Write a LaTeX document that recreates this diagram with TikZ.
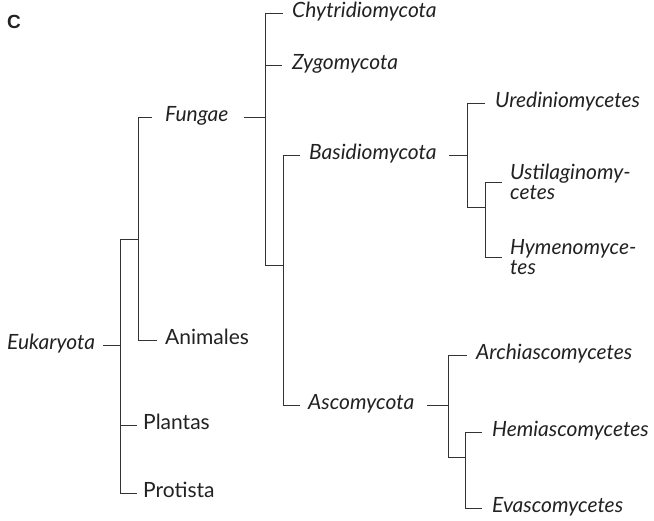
\documentclass[tikz,border=0pt]{standalone}
\usepackage{fontspec}
\setmainfont{Lato}
\newfontfamily\labelfont{Liberation Sans}
\definecolor{ink}{HTML}{222222}
\definecolor{linec}{HTML}{333333}
\begin{document}
\begin{tikzpicture}[x=1pt,y=-1pt,
  taxon/.style={anchor=west,inner sep=0pt,text=ink,font=\fontsize{21}{20}\selectfont\itshape,text height=1em,text depth=0.16em},
  taxonup/.style={taxon,font=\fontsize{21}{20}\selectfont},
  taxontwo/.style={anchor=west,inner sep=0pt,text=ink,align=left,font=\fontsize{21}{20}\selectfont\itshape},
  branch/.style={draw=linec,line width=0.9pt},
  tip/.style={branch,shorten >=8pt}]
\useasboundingbox (0,0) rectangle (654,520);
\fill[white] (0,0) rectangle (654,520);
\node[anchor=base west,inner sep=0pt,text=ink,font=\labelfont\fontsize{19}{20}\selectfont\bfseries] (lbl) at (7,28) {C};
% text nodes
\node[taxon]    (eu)  at (7,345)   {Eukaryota};
\node[taxon]    (fun) at (165,117) {Fungae};
\node[taxonup]  (ani) at (165,340) {Animales};
\node[taxonup]  (pla) at (143,425) {Plantas};
\node[taxonup]  (pro) at (143,493) {Protista};
\node[taxon]    (chy) at (292,13)  {Chytridiomycota};
\node[taxon]    (zyg) at (292,65)  {Zygomycota};
\node[taxon]    (bas) at (309,155) {Basidiomycota};
\node[taxon]    (ure) at (495,103) {Urediniomycetes};
\node[taxontwo] (ust) at (510,182) {Ustilaginomy-\\cetes};
\node[taxontwo] (hym) at (510,257) {Hymenomyce-\\tes};
\node[taxon]    (asc) at (308,405) {Ascomycota};
\node[taxon]    (arc) at (476,355) {Archiascomycetes};
\node[taxon]    (hem) at (492,432) {Hemiascomycetes};
\node[taxon]    (eva) at (492,508) {Evascomycetes};
% joints
\coordinate (jE)  at (120,345);
\coordinate (jFA) at (138,239);
\coordinate (jF)  at (265,117);
\coordinate (jD)  at (283,265);
\coordinate (jB)  at (467,155);
\coordinate (jUH) at (485,207);
\coordinate (jA)  at (448,405);
\coordinate (jHE) at (465,457);
% connectors
\draw[branch,shorten <=8pt] (eu.east) -- (jE);
\draw[branch] (jE) |- (jFA);
\draw[tip,shorten >=6pt] (jE) |- (pla.west);
\draw[tip,shorten >=6pt] (jE) |- (pro.west);
\draw[tip,shorten >=13pt] (jFA) |- (fun.west);
\draw[tip] (jFA) |- (ani.west);
\draw[branch,shorten <=15pt] (fun.east) -- (jF);
\draw[tip,shorten >=9pt] (jF) |- (chy.west);
\draw[tip,shorten >=10pt] (jF) |- (zyg.west);
\draw[branch] (jF) |- (jD);
\draw[tip,shorten >=9pt] (jD) |- (bas.west);
\draw[tip,shorten >=8pt] (jD) |- (asc.west);
\draw[branch,shorten <=12pt] (bas.east) -- (jB);
\draw[tip,shorten >=10pt] (jB) |- (ure.west);
\draw[branch] (jB) |- (jUH);
\draw[tip] (jUH) |- (ust.west);
\draw[tip] (jUH) |- (hym.west);
\draw[branch,shorten <=13pt] (asc.east) -- (jA);
\draw[tip,shorten >=9pt] (jA) |- (arc.west);
\draw[branch] (jA) |- (jHE);
\draw[tip,shorten >=10pt] (jHE) |- (hem.west);
\draw[tip,shorten >=10pt] (jHE) |- (eva.west);
\end{tikzpicture}
\end{document}
